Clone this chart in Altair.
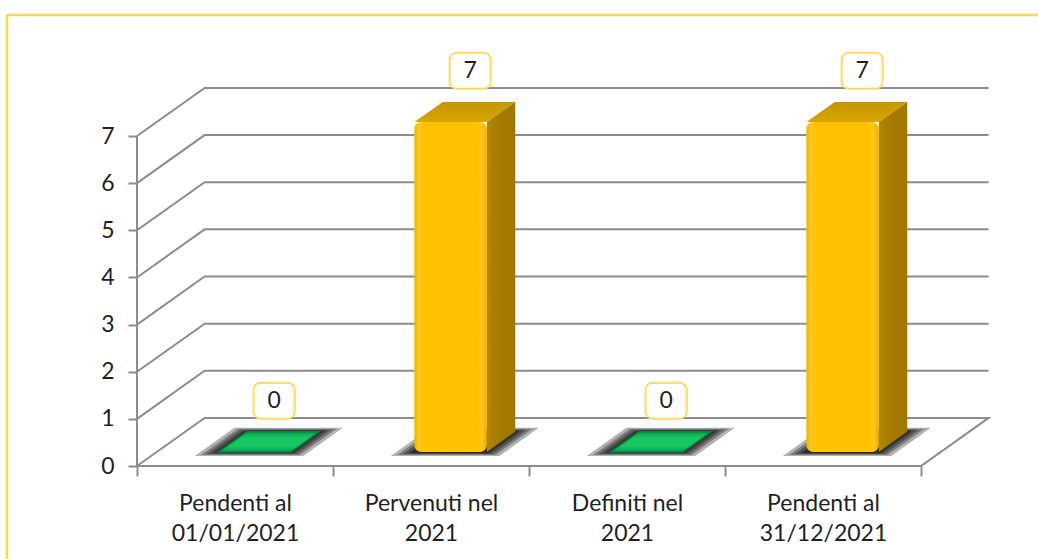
import altair as alt
import pandas as pd

# ---------------- data ----------------
categories = ["Pendenti al|01/01/2021", "Pervenuti nel|2021", "Definiti nel|2021", "Pendenti al|31/12/2021"]
values = [0, 7, 0, 7]
y_ticks = [0, 1, 2, 3, 4, 5, 6, 7]

# ---------------- geometry / style ----------------
PX_X, PX_Y = 196.0, 47.14          # pixels per data unit
W_PX, H_PX = 855, 420
XMAX, YMAX = W_PX / PX_X, H_PX / PX_Y
DX, DY = 0.345, 1.02               # depth vector (data units)
F0, F1 = 0.29, 0.71                # bar depth span (fraction of depth)
BW = 0.37                          # bar front width
N = len(categories)
GRID = "#8C8C8C"
FONT = "Lato"
TXT = "#1F1F1F"

xs = alt.Scale(domain=[0, XMAX], nice=False, zero=False)
ys = alt.Scale(domain=[0, YMAX], nice=False, zero=False)

label_arr = "[" + ",".join("'" + c + "'" for c in categories) + "]"
x_axis = alt.Axis(values=list(range(N + 1)), tickSize=10, tickColor=GRID, tickWidth=2,
                  domain=False, grid=False, title=None, labelOffset=PX_X / 2,
                  labelExpr=f"datum.value < {N} ? split({label_arr}[round(datum.value)], '|') : ''",
                  labelFont=FONT, labelFontSize=23, labelColor=TXT, labelPadding=16,
                  labelLineHeight=30, labelFlush=False, labelOverlap=False, labelBound=False)
y_axis = alt.Axis(values=y_ticks, tickSize=9, tickColor=GRID, tickWidth=2, domain=False,
                  grid=False, title=None, labelFont=FONT, labelFontSize=23, labelColor=TXT,
                  labelPadding=14, labelFlush=False, labelOverlap=False)


def X(f):
    return alt.X(f"{f}:Q", scale=xs, axis=x_axis)


def Y(f):
    return alt.Y(f"{f}:Q", scale=ys, axis=y_axis)


# ---------------- gridlines / floor / axis line ----------------
grid_rows = []
for v in y_ticks[1:]:
    for o, (gx, gy) in enumerate([(0, v), (DX, v + DY), (N + DX, v + DY)]):
        grid_rows.append({"g": f"v{v}", "o": o, "x": gx, "y": gy})
for o, (gx, gy) in enumerate([(0, 0), (N, 0), (N + DX, DY), (DX, DY), (0, 0)]):
    grid_rows.append({"g": "floor", "o": o, "x": gx, "y": gy})
for o, (gx, gy) in enumerate([(0, 0), (0, y_ticks[-1])]):
    grid_rows.append({"g": "axis", "o": o, "x": gx, "y": gy})
grid_df = pd.DataFrame(grid_rows)

grid = alt.Chart(grid_df).mark_line(color=GRID, strokeWidth=2).encode(
    x=X("x"), y=Y("y"), detail="g:N", order="o:Q")

# ---------------- bars ----------------
bdx, bdy = (F1 - F0) * DX, (F1 - F0) * DY
front_rows, side_rows, top_rows, shadow_rows, lab_rows = [], [], [], [], []
slope = bdx / bdy
for i, v in enumerate(values):
    c = i + 0.5 + DX * F0
    xl, xr = c - BW / 2, c + BW / 2
    yb = F0 * DY
    yt = v + yb
    kind = "gold" if v > 0 else "green"
    if v > 0:
        front_rows.append({"b": i, "x": xl, "x2": xr, "y": yb, "y2": yt})
        side_rows += [{"b": i, "x": xr, "y": yb, "y2": yt},
                      {"b": i, "x": xr + bdx, "y": yb + bdy, "y2": yt + bdy}]
    top_rows += [{"b": i, "k": kind, "y": yt, "x": xl, "x2": xr},
                 {"b": i, "k": kind, "y": yt + bdy, "x": xl + bdx, "x2": xr + bdx}]
    for j, (ex, ey) in enumerate([(18, 4), (13, 3), (9, 2), (5, 1.5), (2, 1)]):
        exu, eyu = ex / PX_X, ey / PX_Y
        y0, y1 = yb - eyu, yb + bdy + eyu
        shadow_rows += [
            {"g": f"{i}_{j}", "y": y0, "x": xl - exu - eyu * slope, "x2": xr + exu - eyu * slope},
            {"g": f"{i}_{j}", "y": y1, "x": xl + bdx - exu + eyu * slope, "x2": xr + bdx + exu + eyu * slope}]
    lx = i + 0.5 + 0.2
    ly = yt + bdy + 0.66
    lab_rows.append({"t": str(v), "x": lx, "y": ly, "x1": lx - 0.105, "x2": lx + 0.105,
                     "y1": ly - 0.38, "y2": ly + 0.38})

front_df = pd.DataFrame(front_rows)
side_df = pd.DataFrame(side_rows)
top_df = pd.DataFrame(top_rows)
shadow_df = pd.DataFrame(shadow_rows)
lab_df = pd.DataFrame(lab_rows)

shadow = alt.Chart(shadow_df).mark_area(orient="horizontal", color="black", opacity=0.3).encode(
    y=Y("y"), x=X("x"), x2="x2:Q", detail="g:N")

front_grad = alt.Gradient(gradient="linear", x1=0, x2=1, y1=0, y2=0, stops=[
    alt.GradientStop(color="#F0B300", offset=0),
    alt.GradientStop(color="#FFC81F", offset=0.06),
    alt.GradientStop(color="#FFC000", offset=0.14),
    alt.GradientStop(color="#FFC000", offset=0.86),
    alt.GradientStop(color="#FFC61A", offset=0.93),
    alt.GradientStop(color="#E9AF00", offset=1)])
front = alt.Chart(front_df).mark_rect(fill=front_grad, cornerRadius=7).encode(
    x=X("x"), x2="x2:Q", y=Y("y"), y2="y2:Q")

side_grad = alt.Gradient(gradient="linear", x1=0, x2=1, y1=0, y2=0, stops=[
    alt.GradientStop(color="#B58800", offset=0),
    alt.GradientStop(color="#A47A00", offset=0.4),
    alt.GradientStop(color="#A07700", offset=1)])
side = alt.Chart(side_df).mark_area(fill=side_grad).encode(
    x=X("x"), y=Y("y"), y2="y2:Q", detail="b:N")

top_gold_grad = alt.Gradient(gradient="linear", x1=0, x2=0, y1=1, y2=0, stops=[
    alt.GradientStop(color="#D8A600", offset=0),
    alt.GradientStop(color="#C69600", offset=1)])
top_green_grad = alt.Gradient(gradient="linear", x1=0, x2=0, y1=0, y2=1, stops=[
    alt.GradientStop(color="#0A9E4A", offset=0),
    alt.GradientStop(color="#16C764", offset=0.3),
    alt.GradientStop(color="#16C764", offset=0.7),
    alt.GradientStop(color="#0A9E4A", offset=1)])
top_gold = alt.Chart(top_df).transform_filter("datum.k == 'gold'").mark_area(
    orient="horizontal", fill=top_gold_grad).encode(y=Y("y"), x=X("x"), x2="x2:Q", detail="b:N")
top_green = alt.Chart(top_df).transform_filter("datum.k == 'green'").mark_area(
    orient="horizontal", fill=top_green_grad, stroke="#06803C", strokeWidth=1.5).encode(
    y=Y("y"), x=X("x"), x2="x2:Q", detail="b:N")

boxes = alt.Chart(lab_df).mark_rect(fill="white", stroke="#FFD966", strokeWidth=2, cornerRadius=7).encode(
    x=X("x1"), x2="x2:Q", y=Y("y1"), y2="y2:Q")
texts = alt.Chart(lab_df).mark_text(font=FONT, fontSize=23, color=TXT, baseline="middle", align="center").encode(
    x=X("x"), y=Y("y"), text="t:N")

# ---------------- outer frame ----------------
frame_df = pd.DataFrame({"a": [0]})
frame_top = alt.Chart(frame_df).mark_rule(color="#FFD54F", strokeWidth=2.5).encode(
    x=alt.value(-130), x2=alt.value(W_PX + 60), y=alt.value(-31))
frame_left = alt.Chart(frame_df).mark_rule(color="#FFD54F", strokeWidth=2.5).encode(
    x=alt.value(-130), y=alt.value(-31), y2=alt.value(H_PX + 110))

chart = alt.layer(frame_top, frame_left, grid, shadow, top_green, top_gold, side, front, boxes, texts).properties(
    width=W_PX, height=H_PX,
    autosize=alt.AutoSizeParams(type="none"),
    padding={"left": 137, "top": 46, "right": 1038 - 137 - W_PX, "bottom": 559 - 46 - H_PX},
    background="white",
).configure_view(stroke=None)

chart.save("out.html", embed_options={"renderer": "svg", "actions": False})
